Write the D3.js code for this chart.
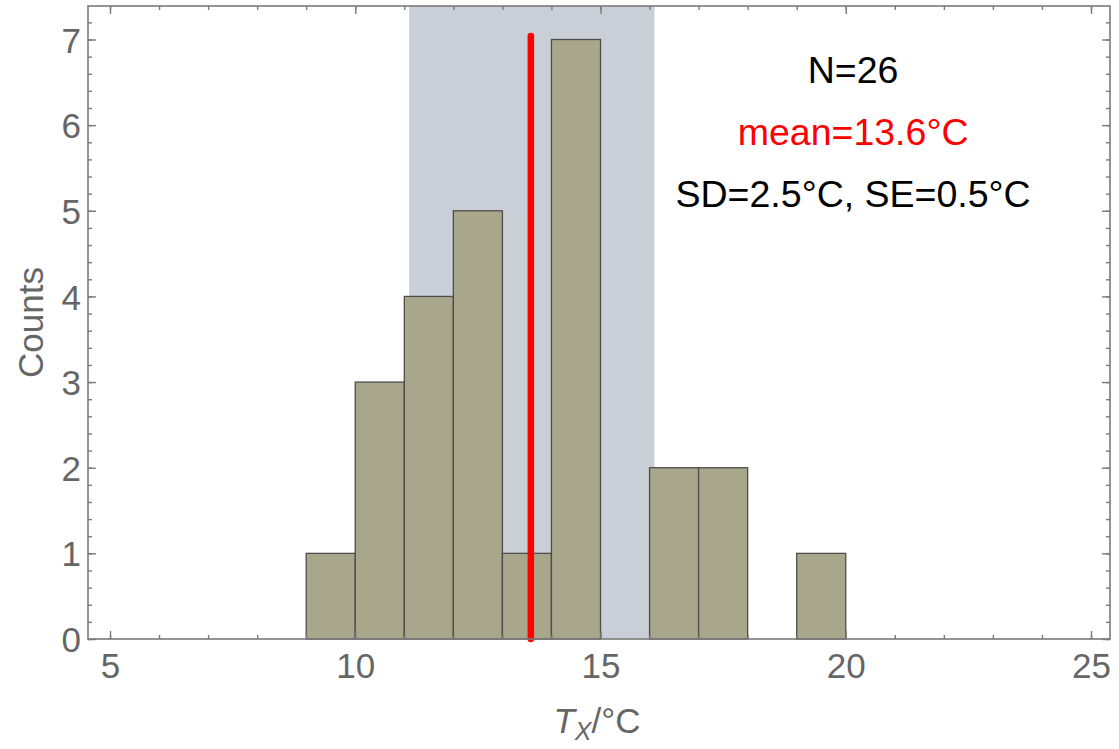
<!DOCTYPE html>
<html>
<head>
<meta charset="utf-8">
<script src="https://cdn.jsdelivr.net/npm/d3@7"></script>
<style>
  body { margin: 0; background: #fff; }
  svg { display: block; font-family: "Liberation Sans", Arial, sans-serif; }
</style>
</head>
<body>
<div id="graph-container"></div>
<script>
// histogram bins (lower edge, upper edge) and counts
const binStarts = [9, 10, 11, 12, 13, 14, 15, 16, 17, 18, 19];
const binEnds   = [10, 11, 12, 13, 14, 15, 16, 17, 18, 19, 20];
const counts    = [1, 3, 4, 5, 1, 7, 0, 2, 2, 0, 1];

const meanValue = 13.6;
const sdValue = 2.5;
const meanLineTop = 7.04;

const xMajorTicks = [5, 10, 15, 20, 25];
const xMinorTicks = d3.range(5, 26, 1);
const yMajorTicks = [0, 1, 2, 3, 4, 5, 6, 7];
const yMinorTicks = d3.range(0, 7.4, 0.2);

const annotations = [
  {text: 'N=26', color: '#000'},
  {text: 'mean=13.6°C', color: '#ff0000'},
  {text: 'SD=2.5°C, SE=0.5°C', color: '#000'}
];

const WIDTH = 1119;
const HEIGHT = 749;
const LEFT = 88, RIGHT = 1110, TOP = 6, BOTTOM = 639;
const AXIS_GREY = '#7a7a7a';
const LABEL_GREY = '#666666';

const xScale = d3.scaleLinear()
                 .domain([5, 25])
                 .range([110, 1091]);

const yScale = d3.scaleLinear()
                 .domain([0, 7])
                 .range([BOTTOM, 39.5]);

const svg = d3.select('#graph-container')
              .append('svg')
              .attr('width', WIDTH)
              .attr('height', HEIGHT);

// +/- 1 SD band around the mean
svg.append('rect')
   .attr('x', xScale(meanValue - sdValue))
   .attr('y', TOP)
   .attr('width', xScale(meanValue + sdValue) - xScale(meanValue - sdValue))
   .attr('height', BOTTOM - TOP)
   .attr('fill', '#c9ced7');

const bins = binStarts.map((s, i) => ({x0: s, x1: binEnds[i], n: counts[i]}))
                      .filter(d => d.n > 0);

svg.selectAll('rect.bar')
   .data(bins)
   .enter()
   .append('rect')
   .attr('class', 'bar')
   .attr('x', d => xScale(d.x0))
   .attr('y', d => yScale(d.n))
   .attr('width', d => xScale(d.x1) - xScale(d.x0))
   .attr('height', d => yScale(0) - yScale(d.n))
   .attr('fill', '#a8a78c')
   .attr('stroke', '#4d4d4d')
   .attr('stroke-width', 1.3);

// mean line
svg.append('line')
   .attr('x1', xScale(meanValue) - 1)
   .attr('x2', xScale(meanValue) - 1)
   .attr('y1', yScale(0))
   .attr('y2', yScale(meanLineTop))
   .attr('stroke', '#ff0000')
   .attr('stroke-width', 6.5)
   .attr('stroke-linecap', 'round');

// frame
svg.append('rect')
   .attr('x', LEFT)
   .attr('y', TOP)
   .attr('width', RIGHT - LEFT)
   .attr('height', BOTTOM - TOP)
   .attr('fill', 'none')
   .attr('stroke', AXIS_GREY)
   .attr('stroke-width', 1.6);

const styleAxis = g => {
  g.select('.domain').remove();
  g.selectAll('line').attr('stroke', AXIS_GREY).attr('stroke-width', 1.4);
  g.selectAll('text').attr('fill', LABEL_GREY)
   .style('font-size', '35px')
   .style('font-family', '"Liberation Sans", Arial, sans-serif');
};

// bottom ticks (inward) with labels
svg.append('g')
   .attr('transform', `translate(0, ${BOTTOM})`)
   .call(d3.axisBottom(xScale).tickValues(xMinorTicks).tickSize(-4).tickFormat(''))
   .call(styleAxis);

const xAx = svg.append('g')
   .attr('id', 'x-axis')
   .attr('transform', `translate(0, ${BOTTOM})`)
   .call(d3.axisBottom(xScale).tickValues(xMajorTicks).tickSizeInner(-8).tickSizeOuter(0).tickPadding(0))
   .call(styleAxis);

xAx.selectAll('text').attr('y', 39).attr('dy', 0);

// top mirrored ticks
svg.append('g')
   .attr('transform', `translate(0, ${TOP})`)
   .call(d3.axisTop(xScale).tickValues(xMinorTicks).tickSize(-4).tickFormat(''))
   .call(styleAxis);
svg.append('g')
   .attr('transform', `translate(0, ${TOP})`)
   .call(d3.axisTop(xScale).tickValues(xMajorTicks).tickSize(-8).tickFormat(''))
   .call(styleAxis);

// left ticks with labels
svg.append('g')
   .attr('transform', `translate(${LEFT}, 0)`)
   .call(d3.axisLeft(yScale).tickValues(yMinorTicks).tickSize(-4).tickFormat(''))
   .call(styleAxis);

const yAx = svg.append('g')
   .attr('id', 'y-axis')
   .attr('transform', `translate(${LEFT}, 0)`)
   .call(d3.axisLeft(yScale).tickValues(yMajorTicks).tickSizeInner(-8).tickSizeOuter(0).tickFormat(d3.format('d')))
   .call(styleAxis);

yAx.selectAll('text').attr('x', -7).attr('dy', '0.36em');

// right mirrored ticks
svg.append('g')
   .attr('transform', `translate(${RIGHT}, 0)`)
   .call(d3.axisRight(yScale).tickValues(yMinorTicks).tickSize(-4).tickFormat(''))
   .call(styleAxis);
svg.append('g')
   .attr('transform', `translate(${RIGHT}, 0)`)
   .call(d3.axisRight(yScale).tickValues(yMajorTicks).tickSize(-8).tickFormat(''))
   .call(styleAxis);

// axis labels
const xLabel = svg.append('text')
   .attr('x', (LEFT + RIGHT) / 2 - 2)
   .attr('y', 733)
   .attr('text-anchor', 'middle')
   .attr('fill', LABEL_GREY)
   .style('font-size', '35px');
xLabel.append('tspan').style('font-style', 'italic').text('T');
xLabel.append('tspan').style('font-style', 'italic').style('font-size', '25px').attr('dy', 7).text('X');
xLabel.append('tspan').attr('dy', -7).text('/°C');

svg.append('text')
   .attr('transform', `translate(43, ${(TOP + BOTTOM) / 2}) rotate(-90)`)
   .attr('text-anchor', 'middle')
   .attr('fill', LABEL_GREY)
   .style('font-size', '35px')
   .text('Counts');

// statistics annotations
svg.selectAll('text.note')
   .data(annotations)
   .enter()
   .append('text')
   .attr('class', 'note')
   .attr('x', xScale(20.15))
   .attr('y', (d, i) => 83 + i * 62)
   .attr('text-anchor', 'middle')
   .attr('fill', d => d.color)
   .style('font-size', '37.5px')
   .text(d => d.text);
</script>
</body>
</html>
